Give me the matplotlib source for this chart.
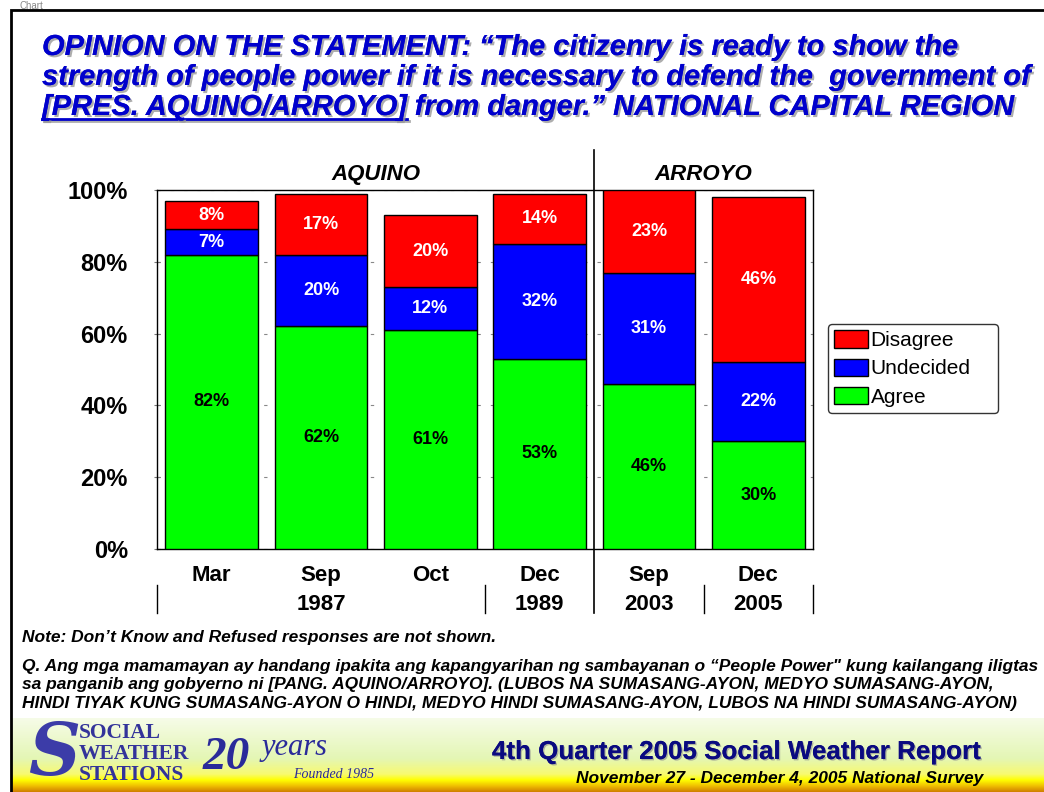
import matplotlib
matplotlib.use("Agg")
import matplotlib.pyplot as plt
import matplotlib.patches as mpatches
import matplotlib.patheffects as pe
from matplotlib.colors import LinearSegmentedColormap
import numpy as np

plt.rcParams["font.family"] = ["Liberation Sans", "DejaVu Sans"]

# ── data ──────────────────────────────────────────────────────────────
MONTHS = ["Mar", "Sep", "Oct", "Dec", "Sep", "Dec"]
YEARS = ["", "1987", "", "1989", "2003", "2005"]
AGREE = [82, 62, 61, 53, 46, 30]
UNDECIDED = [7, 20, 12, 32, 31, 22]
DISAGREE = [8, 17, 20, 14, 23, 46]
GROUPS = ["AQUINO", "ARROYO"]
GROUP_CENTERS = [1.5, 4.5]
YEAR_BOUNDS = [-0.5, 2.5, 4.5, 5.5]
PRES_SPLIT = 3.5

C_AGREE, C_UND, C_DIS = "#00FF00", "#0000FF", "#FF0000"
TITLE_BLUE = "#0000CC"

W, H = 1044, 792


def fx(px):
    return px / W


def fy(py):
    return 1 - py / H


fig = plt.figure(figsize=(W / 100, H / 100), dpi=100)

# ── footer band with gradient ─────────────────────────────────────────
fax = fig.add_axes([fx(12), fy(792), fx(1044) - fx(12), fy(718) - fy(792)], zorder=0)
grad_cmap = LinearSegmentedColormap.from_list(
    "footer", [(0, "#F6FCE8"), (0.55, "#E4F6B4"), (0.76, "#F8FA70"),
               (0.84, "#FFFF00"), (0.92, "#F0C000"), (1.0, "#D08000")])
fax.imshow(np.linspace(0, 1, 200).reshape(-1, 1), cmap=grad_cmap, aspect="auto",
           extent=[0, 1, 0, 1], origin="upper")
fax.set_axis_off()

# outer frame (right and bottom edges run off the slide)
fig.patches.append(mpatches.Rectangle((fx(11), fy(800)), fx(1060) - fx(11), fy(10) - fy(800),
                                      transform=fig.transFigure, fill=False,
                                      edgecolor="black", linewidth=2, zorder=5))
fig.text(fx(20), 0.999, "Chart", color="#888888", fontsize=7, va="top", ha="left")

# ── main chart ────────────────────────────────────────────────────────
ax = fig.add_axes([fx(157), fy(549), fx(813) - fx(157), fy(190) - fy(549)])
x = np.arange(len(MONTHS))
agree = np.array(AGREE) / 100
und = np.array(UNDECIDED) / 100
dis = np.array(DISAGREE) / 100
bw = 0.85
ax.bar(x, agree, bw, color=C_AGREE, edgecolor="black", linewidth=1, zorder=3, label="Agree")
ax.bar(x, und, bw, bottom=agree, color=C_UND, edgecolor="black", linewidth=1, zorder=3,
       label="Undecided")
ax.bar(x, dis, bw, bottom=agree + und, color=C_DIS, edgecolor="black", linewidth=1, zorder=3,
       label="Disagree")

for i in range(len(x)):
    ax.text(x[i], agree[i] / 2, f"{AGREE[i]}%", ha="center", va="center",
            fontsize=13, fontweight="bold", color="black", zorder=4)
    ax.text(x[i], agree[i] + und[i] / 2, f"{UNDECIDED[i]}%", ha="center", va="center",
            fontsize=13, fontweight="bold", color="white", zorder=4)
    ax.text(x[i], agree[i] + und[i] + dis[i] / 2, f"{DISAGREE[i]}%", ha="center", va="center",
            fontsize=13, fontweight="bold", color="white", zorder=4)

ax.set_xlim(-0.5, 5.5)
ax.set_ylim(0, 1)
ax.set_yticks(np.arange(0, 1.01, 0.2))
ax.set_yticklabels([f"{int(v * 100)}%" for v in np.arange(0, 1.01, 0.2)],
                   fontsize=17, fontweight="bold")
ax.tick_params(axis="y", length=4, direction="inout", color="#777777", pad=19)
ax.set_xticks([])
ax.grid(axis="y", color="#888888", linestyle=(0, (3, 9)), linewidth=0.8, zorder=0)
for s in ax.spines.values():
    s.set_linewidth(1)
    s.set_color("black")

# category labels (two levels)
trans = ax.get_xaxis_transform()
for i in range(len(x)):
    ax.text(x[i], -0.075, MONTHS[i], transform=trans, ha="center", va="center",
            fontsize=16, fontweight="bold")
    if YEARS[i]:
        ax.text(x[i], -0.155, YEARS[i], transform=trans, ha="center", va="center",
                fontsize=16, fontweight="bold")
for b in YEAR_BOUNDS:
    ax.plot([b, b], [-0.1, -0.177], transform=trans, color="black", linewidth=1, clip_on=False)
ax.plot([PRES_SPLIT, PRES_SPLIT], [-0.177, 1.111], transform=trans, color="black",
        linewidth=1.2, clip_on=False)
for g, c in zip(GROUPS, GROUP_CENTERS):
    ax.text(c, 1.043, g, transform=trans, ha="center", va="center",
            fontsize=16, fontweight="bold", style="italic")

handles, labels = ax.get_legend_handles_labels()
leg = ax.legend(handles[::-1], labels[::-1], loc="center", mode="expand",
                bbox_to_anchor=(fx(828), fy(414), fx(998) - fx(828), fy(323) - fy(414)),
                bbox_transform=fig.transFigure,
                fontsize=15, frameon=True, fancybox=True, edgecolor="black",
                handlelength=1.6, handleheight=0.9, handletextpad=0.15,
                labelspacing=0.4, borderpad=0.3, borderaxespad=0)
leg.get_frame().set_linewidth(1)

# ── title ─────────────────────────────────────────────────────────────
shadow = [pe.withSimplePatchShadow(offset=(1.5, -1.5), shadow_rgbFace="#999999", alpha=0.8),
          pe.Normal()]
tkw = dict(fontsize=20.9, fontweight="bold", style="italic", color=TITLE_BLUE,
           ha="left", va="baseline", path_effects=shadow)
fig.text(fx(42), fy(55), "OPINION ON THE STATEMENT: \u201cThe citizenry is ready to show the", **tkw)
fig.text(fx(42), fy(85), "strength of people power if it is necessary to defend the  government of", **tkw)
t_br = fig.text(fx(42), fy(115), "[PRES. AQUINO/ARROYO]", **tkw)
fig.canvas.draw()
bb = t_br.get_window_extent().transformed(fig.transFigure.inverted())
fig.text(bb.x1, fy(115), " from danger.\u201d NATIONAL CAPITAL REGION", **tkw)
fig.add_artist(plt.Line2D([fx(42), bb.x1], [fy(119), fy(119)], transform=fig.transFigure,
                          color=TITLE_BLUE, linewidth=2,
                          path_effects=[pe.SimpleLineShadow(offset=(1.5, -1.5),
                                                            shadow_color="#999999", alpha=0.8),
                                        pe.Normal()]))

# ── notes ─────────────────────────────────────────────────────────────
nkw = dict(fontsize=12.5, fontweight="bold", style="italic", ha="left", va="baseline")
fig.text(fx(22), fy(642), "Note: Don\u2019t Know and Refused responses are not shown.", **nkw)
qlines = [
    "Q. Ang mga mamamayan ay handang ipakita ang kapangyarihan ng sambayanan o \u201cPeople Power\" kung kailangang iligtas",
    "sa panganib ang gobyerno ni [PANG. AQUINO/ARROYO]. (LUBOS NA SUMASANG-AYON, MEDYO SUMASANG-AYON,",
    "HINDI TIYAK KUNG SUMASANG-AYON O HINDI, MEDYO HINDI SUMASANG-AYON, LUBOS NA HINDI SUMASANG-AYON)",
]
for k, line in enumerate(qlines):
    fig.text(fx(22), fy(671 + 18.5 * k), line, **nkw)

# ── footer texts / logo ───────────────────────────────────────────────
fig.text(fx(28), fy(755), "S", fontsize=52, fontweight="bold", style="italic",
         family="DejaVu Serif", color="#3C3CA8", ha="left", va="center", zorder=6)
for k, w in enumerate(["SOCIAL", "WEATHER", "STATIONS"]):
    fig.text(fx(79), fy(733 + 21 * k), w, fontsize=15.5, fontweight="bold",
             family="Liberation Serif", color="#33339A", ha="left", va="center", zorder=6)
fig.text(fx(203), fy(758), "20", fontsize=34, fontweight="bold", style="italic",
         family="Liberation Serif", color="#2A2A9A", ha="left", va="center", zorder=6)
fig.text(fx(262), fy(748), "years", fontsize=22, style="italic",
         family="Liberation Serif", color="#2A2A9A", ha="left", va="center", zorder=6)
fig.text(fx(293), fy(775), "Founded 1985", fontsize=10, style="italic",
         family="Liberation Serif", color="#2A2A9A", ha="left", va="center", zorder=6)
fig.text(fx(737), fy(752), "4th Quarter 2005 Social Weather Report", fontsize=18.7,
         fontweight="bold", color="#0A0A80", ha="center", va="center", zorder=6,
         path_effects=[pe.withSimplePatchShadow(offset=(1, -1), shadow_rgbFace="#888888",
                                                alpha=0.6), pe.Normal()])
fig.text(fx(780), fy(779), "November 27 - December 4, 2005 National Survey", fontsize=12.5,
         fontweight="bold", style="italic", color="black", ha="center", va="center", zorder=6)

fig.savefig("out.png", dpi=100)
